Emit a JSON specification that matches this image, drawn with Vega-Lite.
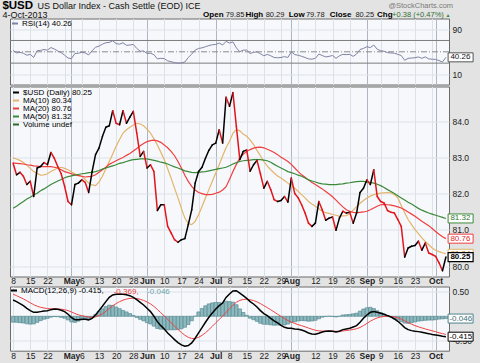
{
  "$schema": "https://vega.github.io/schema/vega-lite/v6.json",
  "background": "#e3e3e3",
  "padding": {"left": 1, "top": -1.5, "right": 8, "bottom": 4},
  "spacing": 0,
  "resolve": {"scale": {"color": "independent", "stroke": "independent", "fill": "independent"}, "legend": {"color": "independent"}},
  "config": {
    "view": {"fill": "#f6f8fb", "stroke": "#6b6b6b", "strokeWidth": 1},
    "font": "Liberation Sans",
    "locale": {"number": {"decimal": ".", "thousands": ",", "grouping": [3], "currency": ["$", ""], "minus": "-"}},
    "axis": {"labelFont": "Liberation Sans", "labelColor": "#222222", "labelFontSize": 8.5, "domain": false, "ticks": false, "gridColor": "#dde2e9", "gridWidth": 1},
    "legend": {"labelFont": "Liberation Sans", "labelFontSize": 8, "padding": 0, "rowPadding": 0, "labelOffset": 3, "symbolSize": 36, "symbolStrokeWidth": 2, "symbolType": "stroke", "labelLimit": 300}
  },
  "datasets": {
    "px": [
      {"d":"2013-04-08","c":82.85,"ma10":83.00,"ma20":82.86,"ma50":81.60,"rsi":52.5,"macd":0.331,"sig":0.450,"h":-0.119},
      {"d":"2013-04-09","c":82.53,"ma10":82.97,"ma20":82.85,"ma50":81.66,"rsi":48,"macd":0.298,"sig":0.420,"h":-0.122},
      {"d":"2013-04-10","c":82.60,"ma10":82.93,"ma20":82.84,"ma50":81.73,"rsi":49,"macd":0.257,"sig":0.387,"h":-0.130},
      {"d":"2013-04-11","c":82.49,"ma10":82.87,"ma20":82.83,"ma50":81.79,"rsi":47.5,"macd":0.216,"sig":0.353,"h":-0.137},
      {"d":"2013-04-12","c":82.26,"ma10":82.80,"ma20":82.81,"ma50":81.86,"rsi":44,"macd":0.162,"sig":0.315,"h":-0.153},
      {"d":"2013-04-15","c":82.35,"ma10":82.71,"ma20":82.80,"ma50":81.91,"rsi":45.5,"macd":0.115,"sig":0.275,"h":-0.160},
      {"d":"2013-04-16","c":81.93,"ma10":82.62,"ma20":82.78,"ma50":81.97,"rsi":40,"macd":0.081,"sig":0.236,"h":-0.155},
      {"d":"2013-04-17","c":82.72,"ma10":82.57,"ma20":82.77,"ma50":82.02,"rsi":52,"macd":0.081,"sig":0.205,"h":-0.124},
      {"d":"2013-04-18","c":82.76,"ma10":82.52,"ma20":82.76,"ma50":82.09,"rsi":52.5,"macd":0.095,"sig":0.183,"h":-0.088},
      {"d":"2013-04-19","c":82.87,"ma10":82.53,"ma20":82.76,"ma50":82.14,"rsi":54,"macd":0.108,"sig":0.168,"h":-0.060},
      {"d":"2013-04-22","c":82.81,"ma10":82.56,"ma20":82.76,"ma50":82.20,"rsi":53,"macd":0.115,"sig":0.157,"h":-0.042},
      {"d":"2013-04-23","c":83.15,"ma10":82.62,"ma20":82.76,"ma50":82.26,"rsi":57.5,"macd":0.135,"sig":0.153,"h":-0.018},
      {"d":"2013-04-24","c":82.99,"ma10":82.67,"ma20":82.74,"ma50":82.31,"rsi":55,"macd":0.148,"sig":0.152,"h":-0.004},
      {"d":"2013-04-25","c":82.76,"ma10":82.72,"ma20":82.72,"ma50":82.36,"rsi":51.5,"macd":0.142,"sig":0.150,"h":-0.008},
      {"d":"2013-04-26","c":82.56,"ma10":82.74,"ma20":82.67,"ma50":82.40,"rsi":48.5,"macd":0.122,"sig":0.144,"h":-0.022},
      {"d":"2013-04-29","c":82.21,"ma10":82.71,"ma20":82.62,"ma50":82.45,"rsi":44,"macd":0.095,"sig":0.134,"h":-0.039},
      {"d":"2013-04-30","c":81.79,"ma10":82.67,"ma20":82.59,"ma50":82.48,"rsi":39,"macd":0.041,"sig":0.116,"h":-0.075},
      {"d":"2013-05-01","c":81.70,"ma10":82.61,"ma20":82.56,"ma50":82.50,"rsi":38,"macd":-0.027,"sig":0.087,"h":-0.114},
      {"d":"2013-05-02","c":82.26,"ma10":82.56,"ma20":82.53,"ma50":82.52,"rsi":47,"macd":-0.068,"sig":0.056,"h":-0.124},
      {"d":"2013-05-03","c":82.30,"ma10":82.52,"ma20":82.51,"ma50":82.54,"rsi":47.5,"macd":-0.068,"sig":0.031,"h":-0.099},
      {"d":"2013-05-06","c":82.39,"ma10":82.49,"ma20":82.49,"ma50":82.56,"rsi":49,"macd":-0.061,"sig":0.013,"h":-0.074},
      {"d":"2013-05-07","c":82.32,"ma10":82.40,"ma20":82.47,"ma50":82.57,"rsi":48,"macd":-0.061,"sig":-0.002,"h":-0.059},
      {"d":"2013-05-08","c":82.04,"ma10":82.30,"ma20":82.48,"ma50":82.59,"rsi":44.5,"macd":-0.075,"sig":-0.017,"h":-0.058},
      {"d":"2013-05-09","c":82.62,"ma10":82.25,"ma20":82.49,"ma50":82.60,"rsi":52,"macd":-0.041,"sig":-0.021,"h":-0.020},
      {"d":"2013-05-10","c":83.09,"ma10":82.23,"ma20":82.53,"ma50":82.62,"rsi":58,"macd":0.027,"sig":-0.012,"h":0.039},
      {"d":"2013-05-13","c":83.27,"ma10":82.33,"ma20":82.60,"ma50":82.65,"rsi":60,"macd":0.115,"sig":0.014,"h":0.101},
      {"d":"2013-05-14","c":83.59,"ma10":82.49,"ma20":82.67,"ma50":82.69,"rsi":63.5,"macd":0.203,"sig":0.052,"h":0.151},
      {"d":"2013-05-15","c":83.85,"ma10":82.70,"ma20":82.74,"ma50":82.72,"rsi":66,"macd":0.298,"sig":0.101,"h":0.197},
      {"d":"2013-05-16","c":83.89,"ma10":82.90,"ma20":82.82,"ma50":82.75,"rsi":66.5,"macd":0.385,"sig":0.158,"h":0.227},
      {"d":"2013-05-17","c":84.31,"ma10":83.11,"ma20":82.87,"ma50":82.78,"rsi":69.5,"macd":0.433,"sig":0.213,"h":0.220},
      {"d":"2013-05-20","c":83.96,"ma10":83.32,"ma20":82.92,"ma50":82.81,"rsi":64.5,"macd":0.446,"sig":0.259,"h":0.187},
      {"d":"2013-05-21","c":83.92,"ma10":83.51,"ma20":82.97,"ma50":82.85,"rsi":63.5,"macd":0.453,"sig":0.298,"h":0.155},
      {"d":"2013-05-22","c":84.31,"ma10":83.69,"ma20":83.01,"ma50":82.87,"rsi":66,"macd":0.446,"sig":0.328,"h":0.118},
      {"d":"2013-05-23","c":83.96,"ma10":83.78,"ma20":83.07,"ma50":82.90,"rsi":61.5,"macd":0.439,"sig":0.350,"h":0.089},
      {"d":"2013-05-24","c":84.13,"ma10":83.85,"ma20":83.12,"ma50":82.93,"rsi":62,"macd":0.419,"sig":0.364,"h":0.055},
      {"d":"2013-05-28","c":84.29,"ma10":83.91,"ma20":83.19,"ma50":82.95,"rsi":63,"macd":0.385,"sig":0.368,"h":0.017},
      {"d":"2013-05-29","c":83.69,"ma10":83.96,"ma20":83.26,"ma50":82.96,"rsi":56,"macd":0.338,"sig":0.362,"h":-0.024},
      {"d":"2013-05-30","c":83.04,"ma10":83.94,"ma20":83.34,"ma50":82.97,"rsi":51,"macd":0.284,"sig":0.346,"h":-0.062},
      {"d":"2013-05-31","c":83.18,"ma10":83.89,"ma20":83.40,"ma50":82.97,"rsi":51.5,"macd":0.230,"sig":0.323,"h":-0.093},
      {"d":"2013-06-03","c":82.72,"ma10":83.80,"ma20":83.45,"ma50":82.97,"rsi":47,"macd":0.162,"sig":0.291,"h":-0.129},
      {"d":"2013-06-04","c":82.81,"ma10":83.69,"ma20":83.48,"ma50":82.95,"rsi":47.5,"macd":0.095,"sig":0.252,"h":-0.157},
      {"d":"2013-06-05","c":82.62,"ma10":83.53,"ma20":83.49,"ma50":82.93,"rsi":45,"macd":0.000,"sig":0.201,"h":-0.201},
      {"d":"2013-06-06","c":81.54,"ma10":83.36,"ma20":83.47,"ma50":82.91,"rsi":37.5,"macd":-0.109,"sig":0.139,"h":-0.248},
      {"d":"2013-06-07","c":81.70,"ma10":83.16,"ma20":83.43,"ma50":82.88,"rsi":38.5,"macd":-0.190,"sig":0.073,"h":-0.263},
      {"d":"2013-06-10","c":81.70,"ma10":82.95,"ma20":83.36,"ma50":82.86,"rsi":38,"macd":-0.258,"sig":0.007,"h":-0.265},
      {"d":"2013-06-11","c":81.10,"ma10":82.70,"ma20":83.28,"ma50":82.83,"rsi":34,"macd":-0.339,"sig":-0.062,"h":-0.277},
      {"d":"2013-06-12","c":80.92,"ma10":82.44,"ma20":83.18,"ma50":82.79,"rsi":32.5,"macd":-0.407,"sig":-0.131,"h":-0.276},
      {"d":"2013-06-13","c":80.73,"ma10":82.16,"ma20":83.06,"ma50":82.75,"rsi":31,"macd":-0.474,"sig":-0.200,"h":-0.274},
      {"d":"2013-06-14","c":80.66,"ma10":81.89,"ma20":82.90,"ma50":82.72,"rsi":30,"macd":-0.535,"sig":-0.267,"h":-0.268},
      {"d":"2013-06-17","c":80.73,"ma10":81.60,"ma20":82.72,"ma50":82.68,"rsi":30.5,"macd":-0.583,"sig":-0.330,"h":-0.253},
      {"d":"2013-06-18","c":80.76,"ma10":81.33,"ma20":82.52,"ma50":82.64,"rsi":32,"macd":-0.610,"sig":-0.386,"h":-0.224},
      {"d":"2013-06-19","c":81.15,"ma10":81.18,"ma20":82.35,"ma50":82.62,"rsi":40,"macd":-0.596,"sig":-0.428,"h":-0.168},
      {"d":"2013-06-20","c":81.56,"ma10":81.15,"ma20":82.21,"ma50":82.60,"rsi":46,"macd":-0.542,"sig":-0.451,"h":-0.091},
      {"d":"2013-06-21","c":82.30,"ma10":81.24,"ma20":82.11,"ma50":82.59,"rsi":53,"macd":-0.447,"sig":-0.450,"h":0.003},
      {"d":"2013-06-24","c":82.62,"ma10":81.42,"ma20":82.04,"ma50":82.60,"rsi":56,"macd":-0.339,"sig":-0.428,"h":0.089},
      {"d":"2013-06-25","c":82.74,"ma10":81.65,"ma20":82.01,"ma50":82.61,"rsi":57,"macd":-0.230,"sig":-0.388,"h":0.158},
      {"d":"2013-06-26","c":82.99,"ma10":81.89,"ma20":81.98,"ma50":82.62,"rsi":59,"macd":-0.122,"sig":-0.335,"h":0.213},
      {"d":"2013-06-27","c":83.21,"ma10":82.12,"ma20":81.98,"ma50":82.64,"rsi":61,"macd":-0.020,"sig":-0.272,"h":0.252},
      {"d":"2013-06-28","c":83.36,"ma10":82.35,"ma20":81.99,"ma50":82.66,"rsi":62.5,"macd":0.068,"sig":-0.204,"h":0.272},
      {"d":"2013-07-01","c":83.41,"ma10":82.58,"ma20":82.02,"ma50":82.68,"rsi":63,"macd":0.149,"sig":-0.133,"h":0.282},
      {"d":"2013-07-02","c":83.78,"ma10":82.81,"ma20":82.05,"ma50":82.70,"rsi":65.5,"macd":0.216,"sig":-0.064,"h":0.280},
      {"d":"2013-07-03","c":83.41,"ma10":83.05,"ma20":82.11,"ma50":82.72,"rsi":62,"macd":0.271,"sig":0.003,"h":0.268},
      {"d":"2013-07-05","c":84.68,"ma10":83.28,"ma20":82.20,"ma50":82.74,"rsi":68.5,"macd":0.385,"sig":0.080,"h":0.305},
      {"d":"2013-07-08","c":84.43,"ma10":83.46,"ma20":82.40,"ma50":82.78,"rsi":65.5,"macd":0.453,"sig":0.154,"h":0.299},
      {"d":"2013-07-09","c":84.81,"ma10":83.68,"ma20":82.62,"ma50":82.83,"rsi":67.5,"macd":0.514,"sig":0.226,"h":0.288},
      {"d":"2013-07-10","c":83.87,"ma10":83.79,"ma20":82.82,"ma50":82.87,"rsi":57,"macd":0.521,"sig":0.285,"h":0.236},
      {"d":"2013-07-11","c":82.95,"ma10":83.75,"ma20":83.00,"ma50":82.90,"rsi":50,"macd":0.473,"sig":0.323,"h":0.150},
      {"d":"2013-07-12","c":83.18,"ma10":83.66,"ma20":83.10,"ma50":82.92,"rsi":53,"macd":0.419,"sig":0.342,"h":0.077},
      {"d":"2013-07-15","c":83.22,"ma10":83.60,"ma20":83.18,"ma50":82.93,"rsi":53,"macd":0.365,"sig":0.347,"h":0.018},
      {"d":"2013-07-16","c":82.63,"ma10":83.50,"ma20":83.23,"ma50":82.94,"rsi":47,"macd":0.298,"sig":0.337,"h":-0.039},
      {"d":"2013-07-17","c":82.81,"ma10":83.37,"ma20":83.27,"ma50":82.95,"rsi":49,"macd":0.250,"sig":0.320,"h":-0.070},
      {"d":"2013-07-18","c":82.93,"ma10":83.21,"ma20":83.29,"ma50":82.95,"rsi":50,"macd":0.189,"sig":0.293,"h":-0.104},
      {"d":"2013-07-19","c":82.56,"ma10":83.06,"ma20":83.30,"ma50":82.95,"rsi":46.5,"macd":0.115,"sig":0.258,"h":-0.143},
      {"d":"2013-07-22","c":82.16,"ma10":82.90,"ma20":83.28,"ma50":82.94,"rsi":43,"macd":0.054,"sig":0.217,"h":-0.163},
      {"d":"2013-07-23","c":82.35,"ma10":82.77,"ma20":83.24,"ma50":82.92,"rsi":45.5,"macd":0.013,"sig":0.176,"h":-0.163},
      {"d":"2013-07-24","c":82.12,"ma10":82.67,"ma20":83.20,"ma50":82.88,"rsi":43,"macd":-0.041,"sig":0.133,"h":-0.174},
      {"d":"2013-07-25","c":81.84,"ma10":82.58,"ma20":83.15,"ma50":82.82,"rsi":40,"macd":-0.095,"sig":0.087,"h":-0.182},
      {"d":"2013-07-26","c":81.79,"ma10":82.50,"ma20":83.09,"ma50":82.77,"rsi":39.5,"macd":-0.136,"sig":0.043,"h":-0.179},
      {"d":"2013-07-29","c":81.82,"ma10":82.44,"ma20":83.02,"ma50":82.72,"rsi":40,"macd":-0.183,"sig":-0.003,"h":-0.180},
      {"d":"2013-07-30","c":81.93,"ma10":82.37,"ma20":82.96,"ma50":82.67,"rsi":41.5,"macd":-0.224,"sig":-0.047,"h":-0.177},
      {"d":"2013-07-31","c":81.77,"ma10":82.30,"ma20":82.90,"ma50":82.62,"rsi":40,"macd":-0.244,"sig":-0.086,"h":-0.158},
      {"d":"2013-08-01","c":82.44,"ma10":82.23,"ma20":82.82,"ma50":82.59,"rsi":50,"macd":-0.244,"sig":-0.118,"h":-0.126},
      {"d":"2013-08-02","c":82.01,"ma10":82.16,"ma20":82.72,"ma50":82.56,"rsi":45,"macd":-0.258,"sig":-0.146,"h":-0.112},
      {"d":"2013-08-05","c":81.89,"ma10":82.07,"ma20":82.62,"ma50":82.52,"rsi":44,"macd":-0.265,"sig":-0.170,"h":-0.095},
      {"d":"2013-08-06","c":81.70,"ma10":81.98,"ma20":82.53,"ma50":82.49,"rsi":42,"macd":-0.278,"sig":-0.191,"h":-0.087},
      {"d":"2013-08-07","c":81.47,"ma10":81.89,"ma20":82.46,"ma50":82.44,"rsi":40,"macd":-0.305,"sig":-0.214,"h":-0.091},
      {"d":"2013-08-08","c":81.19,"ma10":81.79,"ma20":82.39,"ma50":82.39,"rsi":37.5,"macd":-0.339,"sig":-0.239,"h":-0.100},
      {"d":"2013-08-09","c":81.10,"ma10":81.72,"ma20":82.32,"ma50":82.36,"rsi":37,"macd":-0.359,"sig":-0.263,"h":-0.096},
      {"d":"2013-08-12","c":81.19,"ma10":81.66,"ma20":82.26,"ma50":82.33,"rsi":38.5,"macd":-0.366,"sig":-0.284,"h":-0.082},
      {"d":"2013-08-13","c":81.79,"ma10":81.59,"ma20":82.20,"ma50":82.30,"rsi":46,"macd":-0.346,"sig":-0.296,"h":-0.050},
      {"d":"2013-08-14","c":81.56,"ma10":81.52,"ma20":82.14,"ma50":82.28,"rsi":43.5,"macd":-0.319,"sig":-0.301,"h":-0.018},
      {"d":"2013-08-15","c":81.27,"ma10":81.48,"ma20":82.07,"ma50":82.27,"rsi":41,"macd":-0.305,"sig":-0.302,"h":-0.003},
      {"d":"2013-08-16","c":81.33,"ma10":81.46,"ma20":82.00,"ma50":82.26,"rsi":42,"macd":-0.298,"sig":-0.301,"h":0.003},
      {"d":"2013-08-19","c":81.36,"ma10":81.43,"ma20":81.92,"ma50":82.26,"rsi":43.5,"macd":-0.305,"sig":-0.302,"h":-0.003},
      {"d":"2013-08-20","c":80.99,"ma10":81.41,"ma20":81.83,"ma50":82.26,"rsi":38.5,"macd":-0.319,"sig":-0.305,"h":-0.014},
      {"d":"2013-08-21","c":81.33,"ma10":81.38,"ma20":81.73,"ma50":82.27,"rsi":43,"macd":-0.305,"sig":-0.305,"h":0.000},
      {"d":"2013-08-22","c":81.52,"ma10":81.39,"ma20":81.64,"ma50":82.28,"rsi":45.5,"macd":-0.271,"sig":-0.298,"h":0.027},
      {"d":"2013-08-23","c":81.47,"ma10":81.40,"ma20":81.56,"ma50":82.30,"rsi":45,"macd":-0.258,"sig":-0.290,"h":0.032},
      {"d":"2013-08-26","c":81.49,"ma10":81.45,"ma20":81.52,"ma50":82.31,"rsi":45.5,"macd":-0.244,"sig":-0.281,"h":0.037},
      {"d":"2013-08-27","c":81.19,"ma10":81.55,"ma20":81.49,"ma50":82.33,"rsi":42,"macd":-0.217,"sig":-0.268,"h":0.051},
      {"d":"2013-08-28","c":81.47,"ma10":81.65,"ma20":81.48,"ma50":82.34,"rsi":46,"macd":-0.190,"sig":-0.253,"h":0.063},
      {"d":"2013-08-29","c":82.04,"ma10":81.74,"ma20":81.49,"ma50":82.35,"rsi":54,"macd":-0.122,"sig":-0.227,"h":0.105},
      {"d":"2013-08-30","c":82.16,"ma10":81.82,"ma20":81.50,"ma50":82.35,"rsi":56,"macd":-0.041,"sig":-0.189,"h":0.148},
      {"d":"2013-09-03","c":82.39,"ma10":81.89,"ma20":81.52,"ma50":82.33,"rsi":59,"macd":0.027,"sig":-0.146,"h":0.173},
      {"d":"2013-09-04","c":82.26,"ma10":81.94,"ma20":81.56,"ma50":82.32,"rsi":57.5,"macd":0.081,"sig":-0.101,"h":0.182},
      {"d":"2013-09-05","c":82.67,"ma10":81.98,"ma20":81.61,"ma50":82.30,"rsi":62,"macd":0.095,"sig":-0.062,"h":0.157},
      {"d":"2013-09-06","c":81.93,"ma10":82.00,"ma20":81.66,"ma50":82.27,"rsi":54.5,"macd":0.081,"sig":-0.033,"h":0.114},
      {"d":"2013-09-09","c":81.79,"ma10":82.02,"ma20":81.70,"ma50":82.23,"rsi":52,"macd":0.061,"sig":-0.014,"h":0.075},
      {"d":"2013-09-10","c":81.75,"ma10":82.03,"ma20":81.71,"ma50":82.18,"rsi":51,"macd":0.041,"sig":-0.003,"h":0.044},
      {"d":"2013-09-11","c":81.54,"ma10":82.04,"ma20":81.70,"ma50":82.12,"rsi":48.5,"macd":0.013,"sig":0.000,"h":0.013},
      {"d":"2013-09-12","c":81.49,"ma10":82.03,"ma20":81.69,"ma50":82.07,"rsi":48,"macd":-0.014,"sig":-0.003,"h":-0.011},
      {"d":"2013-09-13","c":81.47,"ma10":81.98,"ma20":81.67,"ma50":82.01,"rsi":47.5,"macd":-0.055,"sig":-0.013,"h":-0.042},
      {"d":"2013-09-16","c":81.29,"ma10":81.89,"ma20":81.64,"ma50":81.95,"rsi":45.5,"macd":-0.102,"sig":-0.031,"h":-0.071},
      {"d":"2013-09-17","c":81.10,"ma10":81.68,"ma20":81.61,"ma50":81.89,"rsi":43.5,"macd":-0.163,"sig":-0.057,"h":-0.106},
      {"d":"2013-09-18","c":80.25,"ma10":81.48,"ma20":81.56,"ma50":81.83,"rsi":35,"macd":-0.230,"sig":-0.092,"h":-0.138},
      {"d":"2013-09-19","c":80.50,"ma10":81.29,"ma20":81.50,"ma50":81.77,"rsi":38.5,"macd":-0.271,"sig":-0.128,"h":-0.143},
      {"d":"2013-09-20","c":80.55,"ma10":81.15,"ma20":81.44,"ma50":81.72,"rsi":39,"macd":-0.292,"sig":-0.161,"h":-0.131},
      {"d":"2013-09-23","c":80.57,"ma10":81.01,"ma20":81.38,"ma50":81.66,"rsi":39.5,"macd":-0.305,"sig":-0.190,"h":-0.115},
      {"d":"2013-09-24","c":80.69,"ma10":80.90,"ma20":81.31,"ma50":81.60,"rsi":41,"macd":-0.312,"sig":-0.214,"h":-0.098},
      {"d":"2013-09-25","c":80.44,"ma10":80.78,"ma20":81.24,"ma50":81.55,"rsi":38.5,"macd":-0.326,"sig":-0.236,"h":-0.090},
      {"d":"2013-09-26","c":80.64,"ma10":80.68,"ma20":81.18,"ma50":81.51,"rsi":41,"macd":-0.339,"sig":-0.257,"h":-0.082},
      {"d":"2013-09-27","c":80.36,"ma10":80.59,"ma20":81.12,"ma50":81.47,"rsi":37.5,"macd":-0.353,"sig":-0.276,"h":-0.077},
      {"d":"2013-09-30","c":80.32,"ma10":80.50,"ma20":81.04,"ma50":81.44,"rsi":37,"macd":-0.372,"sig":-0.295,"h":-0.077},
      {"d":"2013-10-01","c":80.27,"ma10":80.44,"ma20":80.96,"ma50":81.41,"rsi":36.5,"macd":-0.382,"sig":-0.313,"h":-0.069},
      {"d":"2013-10-02","c":80.09,"ma10":80.40,"ma20":80.88,"ma50":81.38,"rsi":34.5,"macd":-0.392,"sig":-0.335,"h":-0.057},
      {"d":"2013-10-03","c":79.87,"ma10":80.37,"ma20":80.81,"ma50":81.35,"rsi":32,"macd":-0.405,"sig":-0.353,"h":-0.052},
      {"d":"2013-10-04","c":80.25,"ma10":80.34,"ma20":80.76,"ma50":81.32,"rsi":40.26,"macd":-0.415,"sig":-0.369,"h":-0.046}
    ]
  },
  "vconcat": [
    {
      "width": 439,
      "height": 66,
      "layer": [
        {
          "data": {"name": "px"},
          "mark": {"type": "rule", "strokeWidth": 0, "opacity": 0},
          "encoding": {
            "x": {"field": "d", "type": "ordinal", "scale": {"type": "point", "padding": 0.9},
              "axis": {"orient": "bottom", "title": null, "labels": false, "ticks": false, "domain": false, "grid": true,
                "values": ["2013-04-08","2013-04-15","2013-04-22","2013-04-29","2013-05-01","2013-05-06","2013-05-13","2013-05-20","2013-05-28","2013-06-03","2013-06-10","2013-06-17","2013-06-24","2013-07-01","2013-07-08","2013-07-15","2013-07-22","2013-07-29","2013-08-01","2013-08-05","2013-08-12","2013-08-19","2013-08-26","2013-09-03","2013-09-09","2013-09-16","2013-09-23","2013-09-30","2013-10-01"],
                "gridColor": {"condition": {"test": "indexof(['2013-05-01','2013-06-03','2013-07-01','2013-08-01','2013-09-03','2013-10-01'], datum.value) >= 0", "value": "#aeb6c1"}, "value": "#dde2e9"}}},
            "y": {"field": "rsi", "type": "quantitative", "scale": {"domain": [-7.7, 108.8], "nice": false, "zero": false},
              "axis": {"orient": "right", "title": null, "values": [10, 30, 50, 70, 90], "labelPadding": 3, "grid": true}}
          }
        },
        {
          "data": {"values": [{"v": 70}, {"v": 30}]},
          "mark": {"type": "rule", "color": "#7d7d7d", "strokeWidth": 1},
          "encoding": {"y": {"field": "v", "type": "quantitative"}}
        },
        {
          "data": {"values": [{"v": 50}]},
          "mark": {"type": "rule", "color": "#8a8a8a", "strokeWidth": 1, "strokeDash": [6, 2, 1, 2]},
          "encoding": {"y": {"field": "v", "type": "quantitative"}}
        },
        {
          "data": {"name": "px"},
          "mark": {"type": "line", "strokeWidth": 1},
          "encoding": {
            "x": {"field": "d", "type": "ordinal"},
            "y": {"field": "rsi", "type": "quantitative"},
            "color": {"datum": "rsi", "type": "nominal", "scale": {"domain": ["rsi"], "range": ["#7f83a3"]},
              "legend": {"orient": "top-left", "offset": 1, "title": null, "labelExpr": "'RSI(14) 40.26'"}}
          }
        },
        {
          "data": {"name": "px"},
          "transform": [{"filter": "datum.d == '2013-10-04'"}],
          "mark": {"type": "point", "shape": "M0.44,-0.9H5.44V0.9H0.44Z", "size": 100, "filled": true, "fill": "#ffffff", "stroke": "#555555", "strokeWidth": 1, "opacity": 1},
          "encoding": {"x": {"field": "d", "type": "ordinal"}, "y": {"field": "rsi", "type": "quantitative"}}
        },
        {
          "data": {"name": "px"},
          "transform": [{"filter": "datum.d == '2013-10-04'"}],
          "mark": {"type": "text", "align": "left", "baseline": "middle", "dx": 4.5, "fontSize": 8, "color": "#111111"},
          "encoding": {"x": {"field": "d", "type": "ordinal"}, "y": {"field": "rsi", "type": "quantitative"}, "text": {"field": "rsi", "format": ".2f"}}
        },
        {"data": {"values": [{}]}, "mark": {"type": "text", "text": "$USD", "fontSize": 11.5, "fontWeight": "bold", "align": "left", "baseline": "alphabetic", "dx": -10.7, "color": "#000000"},
          "encoding": {"x": {"datum": "2013-04-08", "type": "ordinal"}, "y": {"datum": 126.4, "type": "quantitative"}}},
        {"data": {"values": [{}]}, "mark": {"type": "text", "text": "US Dollar Index - Cash Settle (EOD) ICE", "font": "Liberation Sans Narrow, Liberation Sans", "fontSize": 9, "align": "left", "baseline": "alphabetic", "dx": 24.3, "color": "#111111"},
          "encoding": {"x": {"datum": "2013-04-08", "type": "ordinal"}, "y": {"datum": 126.4, "type": "quantitative"}}},
        {"data": {"values": [{}]}, "mark": {"type": "text", "text": "4-Oct-2013", "fontSize": 9, "align": "left", "baseline": "alphabetic", "dx": -10.7, "color": "#111111"},
          "encoding": {"x": {"datum": "2013-04-08", "type": "ordinal"}, "y": {"datum": 110.5, "type": "quantitative"}}},
        {"data": {"values": [{}]}, "mark": {"type": "text", "text": "@StockCharts.com", "fontSize": 7.5, "align": "left", "baseline": "alphabetic", "dx": 375.3, "color": "#7a7a7a"},
          "encoding": {"x": {"datum": "2013-04-08", "type": "ordinal"}, "y": {"datum": 128.2, "type": "quantitative"}}},
        {"data": {"values": [{}]}, "mark": {"type": "text", "text": "Open", "fontSize": 8, "fontWeight": "bold", "align": "left", "baseline": "alphabetic", "dx": 190.0, "color": "#000000"},
          "encoding": {"x": {"datum": "2013-04-08", "type": "ordinal"}, "y": {"datum": 111.4, "type": "quantitative"}}},
        {"data": {"values": [{}]}, "mark": {"type": "text", "text": "79.85", "fontSize": 7.5, "align": "left", "baseline": "alphabetic", "dx": 212.6, "color": "#222222"},
          "encoding": {"x": {"datum": "2013-04-08", "type": "ordinal"}, "y": {"datum": 111.4, "type": "quantitative"}}},
        {"data": {"values": [{}]}, "mark": {"type": "text", "text": "High", "fontSize": 8, "fontWeight": "bold", "align": "left", "baseline": "alphabetic", "dx": 232.3, "color": "#000000"},
          "encoding": {"x": {"datum": "2013-04-08", "type": "ordinal"}, "y": {"datum": 111.4, "type": "quantitative"}}},
        {"data": {"values": [{}]}, "mark": {"type": "text", "text": "80.29", "fontSize": 7.5, "align": "left", "baseline": "alphabetic", "dx": 252.6, "color": "#222222"},
          "encoding": {"x": {"datum": "2013-04-08", "type": "ordinal"}, "y": {"datum": 111.4, "type": "quantitative"}}},
        {"data": {"values": [{}]}, "mark": {"type": "text", "text": "Low", "fontSize": 8, "fontWeight": "bold", "align": "left", "baseline": "alphabetic", "dx": 275.6, "color": "#000000"},
          "encoding": {"x": {"datum": "2013-04-08", "type": "ordinal"}, "y": {"datum": 111.4, "type": "quantitative"}}},
        {"data": {"values": [{}]}, "mark": {"type": "text", "text": "79.78", "fontSize": 7.5, "align": "left", "baseline": "alphabetic", "dx": 292.8, "color": "#222222"},
          "encoding": {"x": {"datum": "2013-04-08", "type": "ordinal"}, "y": {"datum": 111.4, "type": "quantitative"}}},
        {"data": {"values": [{}]}, "mark": {"type": "text", "text": "Close", "fontSize": 8, "fontWeight": "bold", "align": "left", "baseline": "alphabetic", "dx": 316.6, "color": "#000000"},
          "encoding": {"x": {"datum": "2013-04-08", "type": "ordinal"}, "y": {"datum": 111.4, "type": "quantitative"}}},
        {"data": {"values": [{}]}, "mark": {"type": "text", "text": "80.25", "fontSize": 7.5, "align": "left", "baseline": "alphabetic", "dx": 342.3, "color": "#222222"},
          "encoding": {"x": {"datum": "2013-04-08", "type": "ordinal"}, "y": {"datum": 111.4, "type": "quantitative"}}},
        {"data": {"values": [{}]}, "mark": {"type": "text", "text": "Chg", "fontSize": 8, "fontWeight": "bold", "align": "left", "baseline": "alphabetic", "dx": 364.0, "color": "#000000"},
          "encoding": {"x": {"datum": "2013-04-08", "type": "ordinal"}, "y": {"datum": 111.4, "type": "quantitative"}}},
        {"data": {"values": [{}]}, "mark": {"type": "text", "text": "+0.38 (+0.47%)", "fontSize": 7.5, "align": "left", "baseline": "alphabetic", "dx": 379.0, "color": "#2f6f2f"},
          "encoding": {"x": {"datum": "2013-04-08", "type": "ordinal"}, "y": {"datum": 111.4, "type": "quantitative"}}},
        {"data": {"values": [{}]}, "mark": {"type": "text", "text": "▲", "fontSize": 5, "align": "left", "baseline": "alphabetic", "dx": 432.5, "color": "#3a8a3a"},
          "encoding": {"x": {"datum": "2013-04-08", "type": "ordinal"}, "y": {"datum": 111.4, "type": "quantitative"}}}
      ]
    },
    {
      "width": 439,
      "height": 190,
      "layer": [
        {
          "data": {"name": "px"},
          "transform": [{"fold": ["ma10", "ma20", "ma50"], "as": ["k", "v"]}],
          "mark": {"type": "line", "strokeWidth": 1.2},
          "encoding": {
            "x": {"field": "d", "type": "ordinal", "scale": {"type": "point", "padding": 0.9},
              "axis": {"orient": "bottom", "title": null, "ticks": false, "domain": false, "grid": true, "labelAngle": 0, "labelPadding": 0, "labelOverlap": false, "labelBound": false, "labelBaseline": "top",
                "values": ["2013-04-08","2013-04-15","2013-04-22","2013-04-29","2013-05-01","2013-05-06","2013-05-13","2013-05-20","2013-05-28","2013-06-03","2013-06-10","2013-06-17","2013-06-24","2013-07-01","2013-07-08","2013-07-15","2013-07-22","2013-07-29","2013-08-01","2013-08-05","2013-08-12","2013-08-19","2013-08-26","2013-09-03","2013-09-09","2013-09-16","2013-09-23","2013-09-30","2013-10-01"],
                "labelExpr": "indexof(['2013-04-29','2013-08-05','2013-09-30'], datum.value) >= 0 ? '' : indexof(['2013-05-01','2013-06-03','2013-07-01','2013-08-01','2013-09-03','2013-10-01'], datum.value) >= 0 ? ['Jan','Feb','Mar','Apr','May','Jun','Jul','Aug','Sep','Oct','Nov','Dec'][toNumber(substring(datum.value, 5, 7)) - 1] : '' + toNumber(substring(datum.value, 8, 10))",
                "labelFontWeight": {"condition": {"test": "indexof(['2013-05-01','2013-06-03','2013-07-01','2013-08-01','2013-09-03','2013-10-01'], datum.value) >= 0", "value": "bold"}, "value": "normal"},
                "gridColor": {"condition": {"test": "indexof(['2013-05-01','2013-06-03','2013-07-01','2013-08-01','2013-09-03','2013-10-01'], datum.value) >= 0", "value": "#aeb6c1"}, "value": "#dde2e9"}}},
            "y": {"field": "v", "type": "quantitative", "scale": {"domain": [79.71, 84.98], "nice": false, "zero": false},
              "axis": {"orient": "right", "title": null, "values": [80, 80.5, 81, 81.5, 82, 82.5, 83, 83.5, 84, 84.5], "format": ".1f", "labelPadding": 3, "grid": true}},
            "color": {"field": "k", "type": "nominal",
              "scale": {"domain": ["c", "ma10", "ma20", "ma50", "vol"], "range": ["#000000", "#e3b46a", "#ef3e3e", "#3a8a3a", "#2c6a2c"]},
              "legend": {"orient": "top-left", "offset": 2, "title": null,
                "labelExpr": "datum.value === 'c' ? '$USD (Daily) 80.25' : datum.value === 'ma10' ? 'MA(10) 80.34' : datum.value === 'ma20' ? 'MA(20) 80.76' : datum.value === 'ma50' ? 'MA(50) 81.32' : 'Volume undef'",
                "encode": {"labels": {"fill": {"condition": [
                  {"test": "datum.value === 'ma10'", "value": "#d89c40"},
                  {"test": "datum.value === 'ma20'", "value": "#e02a2a"},
                  {"test": "datum.value === 'ma50'", "value": "#2c7a2c"},
                  {"test": "datum.value === 'vol'", "value": "#2c6a2c"}], "value": "#000000"}}}}}
          }
        },
        {
          "data": {"name": "px"},
          "transform": [
            {"window": [{"op": "lag", "field": "c", "as": "pc"}, {"op": "lag", "field": "d", "as": "pd"}], "sort": [{"field": "d", "order": "ascending"}]},
            {"filter": "datum.pd != null"}
          ],
          "mark": {"type": "rule", "strokeWidth": 1.5, "strokeCap": "round"},
          "encoding": {
            "x": {"field": "pd", "type": "ordinal"},
            "x2": {"field": "d"},
            "y": {"field": "pc", "type": "quantitative"},
            "y2": {"field": "c"},
            "color": {"condition": {"test": "datum.c >= datum.pc", "value": "#000000"}, "value": "#e3151c"}
          }
        },
        {
          "data": {"name": "px"},
          "transform": [{"filter": "datum.d == '2013-10-04'"}, {"fold": ["ma50", "ma20", "ma10"], "as": ["k", "v"]}],
          "mark": {"type": "point", "shape": "M0.44,-0.9H5.44V0.9H0.44Z", "size": 100, "filled": true, "fill": "#ffffff", "strokeWidth": 1, "opacity": 1},
          "encoding": {
            "x": {"field": "d", "type": "ordinal"},
            "y": {"field": "v", "type": "quantitative"},
            "stroke": {"field": "k", "type": "nominal", "scale": {"domain": ["ma50", "ma20", "ma10", "c"], "range": ["#3a8a3a", "#ef3e3e", "#e3b46a", "#000000"]}, "legend": null}
          }
        },
        {
          "data": {"name": "px"},
          "transform": [{"filter": "datum.d == '2013-10-04'"}, {"fold": ["ma50", "ma20", "ma10"], "as": ["k", "v"]}],
          "mark": {"type": "text", "align": "left", "baseline": "middle", "dx": 4.5, "fontSize": 8},
          "encoding": {
            "x": {"field": "d", "type": "ordinal"},
            "y": {"field": "v", "type": "quantitative"},
            "text": {"field": "v", "format": ".2f"},
            "fill": {"field": "k", "type": "nominal", "scale": {"domain": ["ma50", "ma20", "ma10", "c"], "range": ["#2c7a2c", "#e02a2a", "#c98a30", "#000000"]}, "legend": null}
          }
        },
        {
          "data": {"name": "px"},
          "transform": [{"filter": "datum.d == '2013-10-04'"}],
          "mark": {"type": "point", "shape": "M0.44,-0.9H5.44V0.9H0.44Z", "size": 100, "filled": true, "fill": "#ffffff", "stroke": "#000000", "strokeWidth": 1.2, "opacity": 1},
          "encoding": {"x": {"field": "d", "type": "ordinal"}, "y": {"field": "c", "type": "quantitative"}}
        },
        {
          "data": {"name": "px"},
          "transform": [{"filter": "datum.d == '2013-10-04'"}],
          "mark": {"type": "text", "align": "left", "baseline": "middle", "dx": 4.5, "fontSize": 8, "fontWeight": "bold", "color": "#000000"},
          "encoding": {"x": {"field": "d", "type": "ordinal"}, "y": {"field": "c", "type": "quantitative"}, "text": {"field": "c", "format": ".2f"}}
        }
      ]
    },
    {
      "width": 439,
      "height": 64.2,
      "layer": [
        {
          "data": {"name": "px"},
          "mark": {"type": "bar", "width": 3.4, "fill": "#8db8bd", "stroke": "#4e838b", "strokeWidth": 0.6},
          "encoding": {
            "x": {"field": "d", "type": "ordinal", "scale": {"type": "point", "padding": 0.9},
              "axis": {"orient": "bottom", "title": null, "ticks": false, "domain": false, "grid": true, "labelAngle": 0, "labelPadding": 1, "labelOverlap": false, "labelBound": false, "labelBaseline": "top",
                "values": ["2013-04-08","2013-04-15","2013-04-22","2013-04-29","2013-05-01","2013-05-06","2013-05-13","2013-05-20","2013-05-28","2013-06-03","2013-06-10","2013-06-17","2013-06-24","2013-07-01","2013-07-08","2013-07-15","2013-07-22","2013-07-29","2013-08-01","2013-08-05","2013-08-12","2013-08-19","2013-08-26","2013-09-03","2013-09-09","2013-09-16","2013-09-23","2013-09-30","2013-10-01"],
                "labelExpr": "indexof(['2013-04-29','2013-08-05','2013-09-30'], datum.value) >= 0 ? '' : indexof(['2013-05-01','2013-06-03','2013-07-01','2013-08-01','2013-09-03','2013-10-01'], datum.value) >= 0 ? ['Jan','Feb','Mar','Apr','May','Jun','Jul','Aug','Sep','Oct','Nov','Dec'][toNumber(substring(datum.value, 5, 7)) - 1] : '' + toNumber(substring(datum.value, 8, 10))",
                "labelFontWeight": {"condition": {"test": "indexof(['2013-05-01','2013-06-03','2013-07-01','2013-08-01','2013-09-03','2013-10-01'], datum.value) >= 0", "value": "bold"}, "value": "normal"},
                "gridColor": {"condition": {"test": "indexof(['2013-05-01','2013-06-03','2013-07-01','2013-08-01','2013-09-03','2013-10-01'], datum.value) >= 0", "value": "#aeb6c1"}, "value": "#dde2e9"}}},
            "y": {"field": "h", "type": "quantitative", "scale": {"domain": [-0.70, 0.606], "nice": false, "zero": false},
              "axis": {"orient": "right", "title": null, "values": [-0.5, -0.25, 0, 0.25, 0.5], "labelExpr": "datum.value == 0 ? '0' : format(datum.value, '.2f')", "labelPadding": 3, "grid": true}},
            "y2": {"datum": 0}
          }
        },
        {
          "data": {"name": "px"},
          "mark": {"type": "line", "color": "#ee4444", "strokeWidth": 1},
          "encoding": {"x": {"field": "d", "type": "ordinal"}, "y": {"field": "sig", "type": "quantitative"}}
        },
        {
          "data": {"name": "px"},
          "mark": {"type": "line", "strokeWidth": 1.5},
          "encoding": {
            "x": {"field": "d", "type": "ordinal"},
            "y": {"field": "macd", "type": "quantitative"},
            "color": {"datum": "macd", "type": "nominal", "scale": {"domain": ["macd"], "range": ["#000000"]},
              "legend": {"orient": "top-left", "offset": 0, "title": null, "labelExpr": "'MACD(12,26,9) -0.415,'"}}
          }
        },
        {"data": {"values": [{}]}, "mark": {"type": "text", "text": "-0.369,", "fontSize": 8, "align": "left", "baseline": "middle", "dx": 100.6, "color": "#e8413c"},
          "encoding": {"x": {"datum": "2013-04-08", "type": "ordinal"}, "y": {"datum": 0.5, "type": "quantitative"}}},
        {"data": {"values": [{}]}, "mark": {"type": "text", "text": "-0.046", "fontSize": 8, "align": "left", "baseline": "middle", "dx": 134, "color": "#6fa3aa"},
          "encoding": {"x": {"datum": "2013-04-08", "type": "ordinal"}, "y": {"datum": 0.5, "type": "quantitative"}}},
        {
          "data": {"name": "px"},
          "transform": [{"filter": "datum.d == '2013-10-04'"}, {"fold": ["h", "macd"], "as": ["k", "v"]}],
          "mark": {"type": "point", "shape": "M0.44,-0.9H5.44V0.9H0.44Z", "size": 100, "filled": true, "fill": "#ffffff", "strokeWidth": 1, "opacity": 1},
          "encoding": {
            "x": {"field": "d", "type": "ordinal"},
            "y": {"field": "v", "type": "quantitative"},
            "stroke": {"field": "k", "type": "nominal", "scale": {"domain": ["h", "macd"], "range": ["#4e838b", "#000000"]}, "legend": null}
          }
        },
        {
          "data": {"name": "px"},
          "transform": [{"filter": "datum.d == '2013-10-04'"}, {"fold": ["h", "macd"], "as": ["k", "v"]}],
          "mark": {"type": "text", "align": "left", "baseline": "middle", "dx": 3.5, "fontSize": 8},
          "encoding": {
            "x": {"field": "d", "type": "ordinal"},
            "y": {"field": "v", "type": "quantitative"},
            "text": {"field": "v", "format": ".3f"},
            "fill": {"field": "k", "type": "nominal", "scale": {"domain": ["h", "macd"], "range": ["#3d6f76", "#000000"]}, "legend": null}
          }
        }
      ]
    }
  ]
}
